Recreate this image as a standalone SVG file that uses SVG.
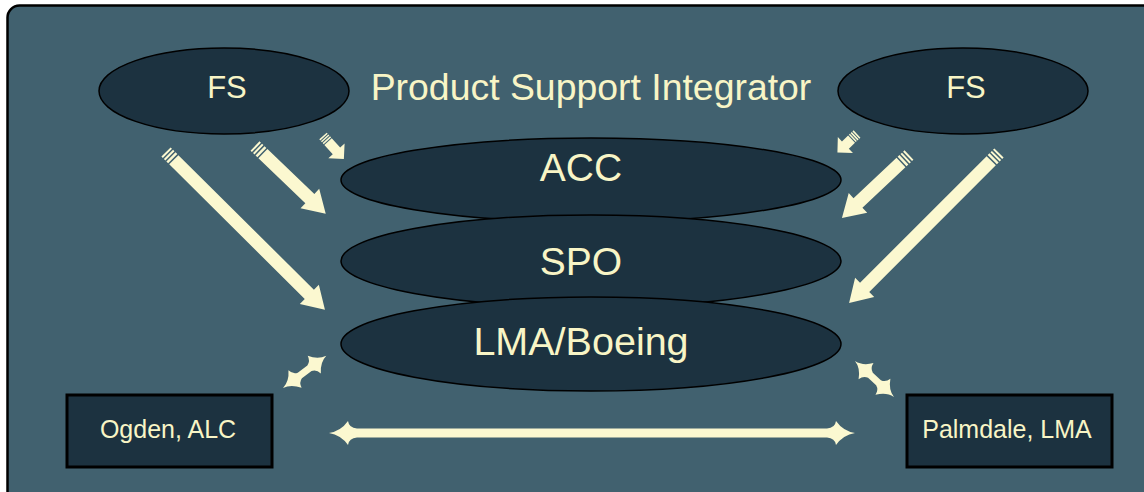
<svg xmlns="http://www.w3.org/2000/svg" width="1144" height="492" viewBox="0 0 1144 492">
<style>
.bg{fill:#41616f;stroke:#000;stroke-width:2.5}
.ell{fill:#1c3240;stroke:#000;stroke-width:1.5}
.box{fill:#1c3240;stroke:#000;stroke-width:3}
.t{font-family:"Liberation Sans",Arial,sans-serif;fill:#f8f5c6;text-anchor:middle}
.arr{fill:#fbf8d0;stroke:none}
</style>
<rect x="0" y="0" width="1144" height="492" fill="#ffffff"/>
<rect class="bg" x="7.5" y="5.5" width="1160" height="520" rx="12"/>

<g id="connectors">
  <!-- left striped arrows -->
  <path class="arr" transform="translate(166,152) rotate(44.8)" d="M0,-6.5h2v13h-2z M3.5,-6.5h2v13h-2z M7,-6.5h2.5v13h-2.5z M11,-6.5H202V-13.5L224,0L202,13.5V6.5H11z"/>
  <path class="arr" transform="translate(255,146) rotate(43.8)" d="M0,-6.5h2v13h-2z M3.5,-6.5h2v13h-2z M7,-6.5h2.5v13h-2.5z M11,-6.5H76V-13.5L98,0L76,13.5V6.5H11z"/>
  <path class="arr" transform="translate(323,136) rotate(47.7)" d="M0,-5h1.5v10h-1.5z M2.5,-5h1.5v10h-1.5z M5,-5h1.5v10h-1.5z M7.5,-5H20V-11L31,0L20,11V5H7.5z"/>
  <!-- right striped arrows -->
  <path class="arr" transform="translate(999,153) rotate(135)" d="M0,-6.5h2v13h-2z M3.5,-6.5h2v13h-2z M7,-6.5h2.5v13h-2.5z M11,-6.5H190V-13.5L212,0L190,13.5V6.5H11z"/>
  <path class="arr" transform="translate(909,155) rotate(136.8)" d="M0,-6.5h2v13h-2z M3.5,-6.5h2v13h-2z M7,-6.5h2.5v13h-2.5z M11,-6.5H70V-13.5L92,0L70,13.5V6.5H11z"/>
  <path class="arr" transform="translate(857,134) rotate(136.5)" d="M0,-5h1.5v10h-1.5z M2.5,-5h1.5v10h-1.5z M5,-5h1.5v10h-1.5z M7.5,-5H16V-11L27,0L16,11V5H7.5z"/>
  <!-- double arrows -->
  <path class="arr" transform="translate(329,433)" d="M0,0Q12,-2 19,-12Q20,-5 28,-4.5L498,-4.5Q506,-5 507,-12Q514,-2 526,0Q514,2 507,12Q506,5 498,4.5L28,4.5Q20,5 19,12Q12,2 0,0Z"/>
  <path class="arr" transform="translate(283,388) rotate(-36.7)" d="M0,0Q9,-1.5 15,-11Q16,-5 21,-3.5L33,-3.5Q38,-5 39,-11Q45,-1.5 54,0Q45,1.5 39,11Q38,5 33,3.5L21,3.5Q16,5 15,11Q9,1.5 0,0Z"/>
  <path class="arr" transform="translate(855,361) rotate(42.7)" d="M0,0Q9,-1.5 15,-11Q16,-5 21,-3.5L32,-3.5Q37,-5 38,-11Q44,-1.5 53,0Q44,1.5 38,11Q37,5 32,3.5L21,3.5Q16,5 15,11Q9,1.5 0,0Z"/>
</g>

<g id="title">
  <text class="t" x="591" y="100" font-size="37.4">Product Support Integrator</text>
</g>
<g id="fs-left">
  <ellipse class="ell" cx="224" cy="91" rx="125" ry="43"/>
  <text class="t" x="227" y="98" font-size="31">FS</text>
</g>
<g id="fs-right">
  <ellipse class="ell" cx="963" cy="91" rx="125" ry="43"/>
  <text class="t" x="966" y="98" font-size="31">FS</text>
</g>
<g id="acc">
  <ellipse class="ell" cx="591" cy="180" rx="250" ry="42"/>
  <text class="t" x="581" y="181" font-size="39">ACC</text>
</g>
<g id="spo">
  <ellipse class="ell" cx="591" cy="261" rx="250" ry="46"/>
  <text class="t" x="581" y="275" font-size="39">SPO</text>
</g>
<g id="lma">
  <ellipse class="ell" cx="591" cy="344" rx="250" ry="47"/>
  <text class="t" x="581" y="355" font-size="39.5">LMA/Boeing</text>
</g>
<g id="ogden">
  <rect class="box" x="67" y="395" width="205" height="72"/>
  <text class="t" x="168" y="438" font-size="25">Ogden, ALC</text>
</g>
<g id="palmdale">
  <rect class="box" x="907" y="395" width="205" height="72"/>
  <text class="t" x="1007" y="438" font-size="25">Palmdale, LMA</text>
</g>
</svg>
